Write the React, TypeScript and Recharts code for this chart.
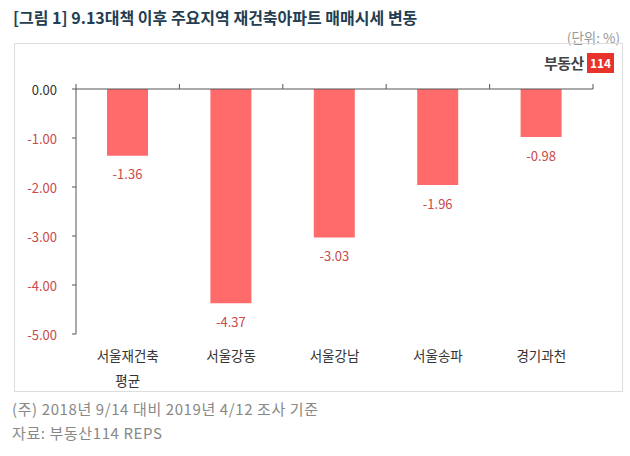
import React from "react";
import { BarChart, Bar, XAxis, YAxis, LabelList } from "recharts";

const CATEGORIES = ["서울재건축\n평균", "서울강동", "서울강남", "서울송파", "경기과천"];
const CHANGE = [-1.36, -4.37, -3.03, -1.96, -0.98];
const Y_TICKS = [0, -1, -2, -3, -4, -5];
const EDGE_TICKS = [0, 1, 2, 3, 4, 5];

const data = CATEGORIES.map((name, i) => ({ name, value: CHANGE[i], edge: i }));

const FONT = "'Noto Sans CJK KR', 'Noto Sans', sans-serif";
const RED = "#c94a4a";

function YTick({ x, y, payload }: any) {
  const v = Number(payload.value);
  return (
    <text x={x} y={y} textAnchor="end" dominantBaseline="central" fontSize={13} fill={v === 0 ? "#333" : RED} fontFamily={FONT}>
      {v.toFixed(2)}
    </text>
  );
}

function CatTick({ x, y, payload }: any) {
  const lines = String(payload.value).split("\n");
  return (
    <g>
      {lines.map((l, i) => (
        <text key={i} x={x} y={y + 13 + i * 25} textAnchor="middle" dominantBaseline="central" fontSize={13.5} fill="#333" fontFamily={FONT}>
          {l}
        </text>
      ))}
    </g>
  );
}

function ValueLabel({ x, y, width, height, value }: any) {
  const bottom = Math.max(y, y + height);
  return (
    <text x={x + width / 2} y={bottom + 18} textAnchor="middle" dominantBaseline="central" fontSize={13} fill={RED} fontFamily={FONT}>
      {Number(value).toFixed(2)}
    </text>
  );
}

export default function App() {
  return (
    <div style={{ position: "fixed", left: 0, top: 0, width: 630, height: 456, background: "#fff", fontFamily: FONT }}>
      <div style={{ position: "absolute", left: 13, top: 5, fontSize: 16, fontWeight: 700, color: "#233d52", whiteSpace: "nowrap", lineHeight: "24px" }}>
        [그림 1] 9.13대책 이후 주요지역 재건축아파트 매매시세 변동
      </div>
      <div style={{ position: "absolute", right: 10, top: 28, fontSize: 13.5, color: "#999", lineHeight: "18px" }}>(단위: %)</div>
      <div style={{ position: "absolute", left: 14, top: 43, width: 607, height: 347, border: "1px solid #ddd" }} />
      <div style={{ position: "absolute", left: 544, top: 52, display: "flex", alignItems: "center" }}>
        <span style={{ fontSize: 15, fontWeight: 700, color: "#444", letterSpacing: -0.5 }}>부동산</span>
        <span style={{ marginLeft: 3, background: "#e8332a", color: "#fff", fontSize: 12, fontWeight: 700, padding: "2px 3px", lineHeight: "16px" }}>114</span>
      </div>
      <div style={{ position: "absolute", left: 0, top: 0 }}>
        <BarChart width={630} height={456} data={data} margin={{ top: 88, right: 37, bottom: 82, left: 16 }}>
          <XAxis xAxisId="cat" dataKey="name" orientation="bottom" height={40} axisLine={false} tickLine={false} tick={<CatTick />} interval={0} />
          <XAxis
            xAxisId="edge"
            dataKey="edge"
            type="number"
            domain={[0, 5]}
            ticks={EDGE_TICKS}
            orientation="top"
            height={1}
            allowDataOverflow
            axisLine={{ stroke: "#555" }}
            tickLine={{ stroke: "#555" }}
            tickSize={5}
            tick={{ fill: "none", fontSize: 1 }}
            interval={0}
          />
          <YAxis
            domain={[-5, 0]}
            ticks={Y_TICKS}
            width={60}
            axisLine={{ stroke: "#555" }}
            tickLine={{ stroke: "#555" }}
            tickSize={4}
            tickMargin={15}
            tick={<YTick />}
            interval={0}
          />
          <Bar xAxisId="cat" dataKey="value" fill="#ff6b6b" barSize={41} isAnimationActive={false}>
            <LabelList dataKey="value" content={<ValueLabel />} />
          </Bar>
        </BarChart>
      </div>
      <div style={{ position: "absolute", left: 12, top: 399, fontSize: 15, letterSpacing: 0.6, color: "#888", lineHeight: "20px" }}>(주) 2018년 9/14 대비 2019년 4/12 조사 기준</div>
      <div style={{ position: "absolute", left: 12, top: 423, fontSize: 15, letterSpacing: 0.6, color: "#888", lineHeight: "20px" }}>자료: 부동산114 REPS</div>
    </div>
  );
}
